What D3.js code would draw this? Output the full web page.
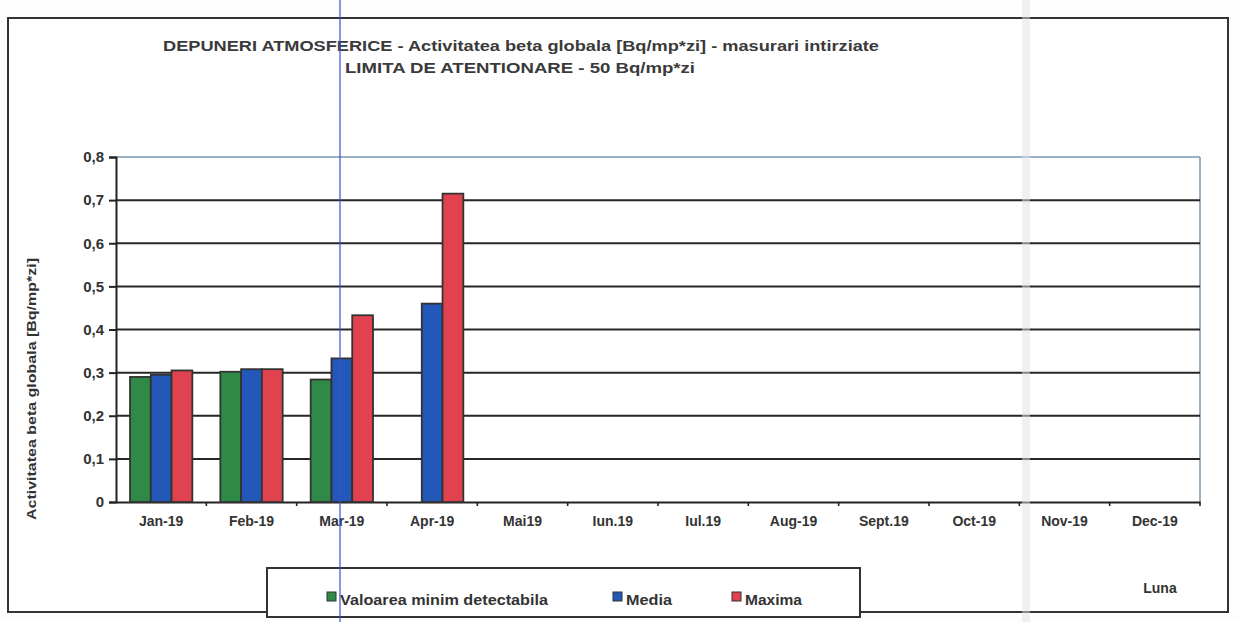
<!DOCTYPE html>
<html>
<head>
<meta charset="utf-8">
<script src="https://cdn.jsdelivr.net/npm/d3@7"></script>
<style>
  body { margin: 0; background: #fdfdfd; }
  svg { font-family: "Liberation Sans", Arial, sans-serif; }
</style>
</head>
<body>
<script>
// Data
const months = ["Jan-19", "Feb-19", "Mar-19", "Apr-19", "Mai19", "Iun.19", "Iul.19", "Aug-19", "Sept.19", "Oct-19", "Nov-19", "Dec-19"];
const seriesNames = ["Valoarea minim detectabila", "Media", "Maxima"];
const minDetect = [0.29, 0.302, 0.284, null, null, null, null, null, null, null, null, null];
const media = [0.295, 0.308, 0.333, 0.46, null, null, null, null, null, null, null, null];
const maxima = [0.305, 0.308, 0.433, 0.715, null, null, null, null, null, null, null, null];
const yTicks = [0, 0.1, 0.2, 0.3, 0.4, 0.5, 0.6, 0.7, 0.8];
const colors = ["#2f8a47", "#2458b8", "#e0434f"];

const width = 1240, height = 622;
const plot = { left: 116, right: 1200, top: 157, bottom: 502 };

const svg = d3.select("body").append("svg")
  .attr("width", width)
  .attr("height", height);

// Outer frame
svg.append("rect")
  .attr("x", 8).attr("y", 18)
  .attr("width", 1220).attr("height", 594)
  .attr("fill", "#fff")
  .attr("stroke", "#333")
  .attr("stroke-width", 2);

// Scales
const x = d3.scaleBand()
  .domain(months)
  .range([plot.left, plot.right])
  .paddingInner(0.31)
  .paddingOuter(0.155);

const x1 = d3.scaleBand()
  .domain([0, 1, 2])
  .range([0, x.bandwidth()]);

const y = d3.scaleLinear()
  .domain([0, 0.8])
  .range([plot.bottom, plot.top]);

// Plot border (top and right are light)
svg.append("line")
  .attr("x1", plot.left).attr("x2", plot.right)
  .attr("y1", plot.top).attr("y2", plot.top)
  .attr("stroke", "#7a97b0").attr("stroke-width", 1.5);
svg.append("line")
  .attr("x1", plot.right).attr("x2", plot.right)
  .attr("y1", plot.top).attr("y2", plot.bottom)
  .attr("stroke", "#7a97b0").attr("stroke-width", 1.5);

// Gridlines
svg.append("g")
  .selectAll("line")
  .data(yTicks.filter((d) => d > 0 && d < 0.8))
  .join("line")
  .attr("x1", plot.left).attr("x2", plot.right)
  .attr("y1", (d) => y(d)).attr("y2", (d) => y(d))
  .attr("stroke", "#262626")
  .attr("stroke-width", 2);

// Y axis
const yAxis = d3.axisLeft(y)
  .tickValues(yTicks)
  .tickSize(7)
  .tickFormat((d) => (d === 0 ? "0" : d3.format(".1f")(d).replace(".", ",")));

const gy = svg.append("g")
  .attr("transform", `translate(${plot.left},0)`)
  .call(yAxis);
gy.select(".domain").attr("stroke", "#222").attr("stroke-width", 2);
gy.selectAll(".tick line").attr("stroke", "#222").attr("stroke-width", 2);
gy.selectAll(".tick text")
  .attr("x", -12)
  .attr("fill", "#333")
  .style("font-size", "15px")
  .style("font-weight", "bold");

// X axis
const xAxis = d3.axisBottom(x).tickSize(0).tickPadding(14);
const gx = svg.append("g")
  .attr("transform", `translate(0,${plot.bottom})`)
  .call(xAxis);
gx.select(".domain").attr("stroke", "#222").attr("stroke-width", 2);
gx.selectAll(".tick text")
  .attr("fill", "#333")
  .style("font-size", "14px")
  .style("font-weight", "bold");

// category boundary ticks
const step = x.step();
svg.append("g")
  .selectAll("line")
  .data(months)
  .join("line")
  .attr("x1", (d) => x(d) - (step - x.bandwidth()) / 2 + step)
  .attr("x2", (d) => x(d) - (step - x.bandwidth()) / 2 + step)
  .attr("y1", plot.bottom)
  .attr("y2", plot.bottom + 4)
  .attr("stroke", "#222")
  .attr("stroke-width", 1.6);

// Bars
const series = [minDetect, media, maxima];
series.forEach((vals, si) => {
  svg.append("g")
    .selectAll("rect")
    .data(months.map((m, i) => ({ m, v: vals[i] })).filter((d) => d.v != null))
    .join("rect")
    .attr("x", (d) => x(d.m) + x1(si))
    .attr("y", (d) => y(d.v))
    .attr("width", x1.bandwidth())
    .attr("height", (d) => y(0) - y(d.v))
    .attr("fill", colors[si])
    .attr("stroke", "#333")
    .attr("stroke-width", 1.8);
});

// Title
const title = svg.append("g").attr("fill", "#3a3a3a")
  .style("font-weight", "bold");
title.append("text")
  .attr("x", 521).attr("y", 51)
  .attr("text-anchor", "middle")
  .style("font-size", "15.5px")
  .attr("textLength", 716)
  .attr("lengthAdjust", "spacingAndGlyphs")
  .text("DEPUNERI ATMOSFERICE - Activitatea beta globala [Bq/mp*zi] - masurari intirziate");
title.append("text")
  .attr("x", 520).attr("y", 73)
  .attr("text-anchor", "middle")
  .style("font-size", "15.5px")
  .attr("textLength", 350)
  .attr("lengthAdjust", "spacingAndGlyphs")
  .text("LIMITA DE ATENTIONARE - 50 Bq/mp*zi");

// Y axis title
svg.append("text")
  .attr("transform", "translate(36,389) rotate(-90)")
  .attr("text-anchor", "middle")
  .attr("fill", "#333")
  .style("font-size", "13px")
  .style("font-weight", "bold")
  .attr("textLength", 262)
  .attr("lengthAdjust", "spacingAndGlyphs")
  .text("Activitatea  beta globala  [Bq/mp*zi]");

// X axis title
svg.append("text")
  .attr("x", 1160).attr("y", 593)
  .attr("text-anchor", "middle")
  .attr("fill", "#333")
  .style("font-size", "14px")
  .style("font-weight", "bold")
  .text("Luna");

// Legend
const legend = svg.append("g");
legend.append("rect")
  .attr("x", 267).attr("y", 568)
  .attr("width", 593).attr("height", 49)
  .attr("fill", "#fff")
  .attr("stroke", "#333")
  .attr("stroke-width", 2);
const legendX = [327, 613, 732];
const legendW = [208, 46, 57];
seriesNames.forEach((name, i) => {
  legend.append("rect")
    .attr("x", legendX[i]).attr("y", 592)
    .attr("width", 9).attr("height", 9)
    .attr("fill", colors[i])
    .attr("stroke", "#333")
    .attr("stroke-width", 1);
  legend.append("text")
    .attr("x", legendX[i] + 13).attr("y", 605)
    .attr("fill", "#333")
    .style("font-size", "14px")
    .style("font-weight", "bold")
    .attr("textLength", legendW[i])
    .attr("lengthAdjust", "spacingAndGlyphs")
    .text(name);
});

// Scan artifacts: blue vertical line and grey band
svg.append("line")
  .attr("x1", 340).attr("x2", 340)
  .attr("y1", 0).attr("y2", height)
  .attr("stroke", "#3a4fd0").attr("stroke-width", 1.2);
svg.append("rect")
  .attr("x", 1022).attr("y", 0)
  .attr("width", 8).attr("height", height)
  .attr("fill", "#e2e2e6").attr("opacity", 0.5);
</script>
</body>
</html>
